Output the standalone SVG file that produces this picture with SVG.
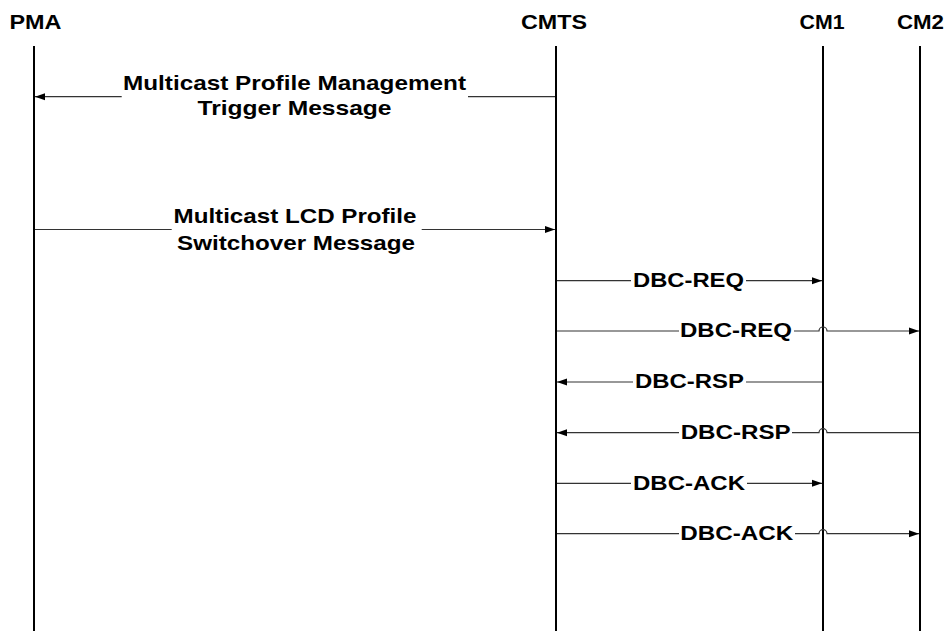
<svg xmlns="http://www.w3.org/2000/svg" width="948" height="631" viewBox="0 0 948 631">
  <style>
    .life { stroke: #000; stroke-width: 2; fill: none; }
    .hdr { font-family: "Liberation Sans", Arial, sans-serif; font-weight: bold; font-size: 20px; fill: #000; text-anchor: middle; }
    .lbl { font-family: "Liberation Sans", Arial, sans-serif; font-weight: bold; font-size: 21px; fill: #000; text-anchor: middle; }
    .dbc { font-family: "Liberation Sans", Arial, sans-serif; font-weight: bold; font-size: 20px; fill: #000; text-anchor: middle; }
    .msg { stroke: #333; stroke-width: 1.2; fill: none; }
  </style>
  <defs>
    <marker id="ah" markerUnits="userSpaceOnUse" markerWidth="11" markerHeight="8" refX="10" refY="4" orient="auto">
      <path d="M0,0.5 L10,4 L0,7.5 z" fill="#000"/>
    </marker>
  </defs>
  <rect width="948" height="631" fill="#fff"/>

  <g id="pma">
    <text class="hdr" x="35.5" y="29.3" textLength="52" lengthAdjust="spacingAndGlyphs">PMA</text>
    <line class="life" x1="34" y1="46" x2="34" y2="631"/>
  </g>
  <g id="cmts">
    <text class="hdr" x="554" y="29.3" textLength="66" lengthAdjust="spacingAndGlyphs">CMTS</text>
    <line class="life" x1="556" y1="46" x2="556" y2="631"/>
  </g>
  <g id="cm1">
    <text class="hdr" x="822" y="29.3" textLength="45" lengthAdjust="spacingAndGlyphs">CM1</text>
    <line class="life" x1="823" y1="46" x2="823" y2="631"/>
  </g>
  <g id="cm2">
    <text class="hdr" x="920.5" y="29.3" textLength="47" lengthAdjust="spacingAndGlyphs">CM2</text>
    <line class="life" x1="920" y1="46" x2="920" y2="631"/>
  </g>

  <g id="connectors">
    <!-- Multicast Profile Management Trigger Message: CMTS -> PMA -->
    <line class="msg" x1="555" y1="96.7" x2="468" y2="96.7"/>
    <line class="msg" x1="121.7" y1="96.7" x2="35" y2="96.7" marker-end="url(#ah)"/>
    <text class="lbl" x="294.5" y="90" textLength="343" lengthAdjust="spacingAndGlyphs">Multicast Profile Management</text>
    <text class="lbl" x="294.5" y="115" textLength="194" lengthAdjust="spacingAndGlyphs">Trigger Message</text>

    <!-- Multicast LCD Profile Switchover Message: PMA -> CMTS -->
    <line class="msg" x1="35" y1="229.5" x2="171.7" y2="229.5"/>
    <line class="msg" x1="421.7" y1="229.5" x2="555" y2="229.5" marker-end="url(#ah)"/>
    <text class="lbl" x="295" y="223.3" textLength="243" lengthAdjust="spacingAndGlyphs">Multicast LCD Profile</text>
    <text class="lbl" x="296" y="250" textLength="238" lengthAdjust="spacingAndGlyphs">Switchover Message</text>

    <!-- DBC-REQ CMTS -> CM1 -->
    <line class="msg" x1="557" y1="280.7" x2="631" y2="280.7"/>
    <line class="msg" x1="746" y1="280.7" x2="822" y2="280.7" marker-end="url(#ah)"/>
    <text class="dbc" x="688.5" y="287" textLength="111" lengthAdjust="spacingAndGlyphs">DBC-REQ</text>

    <!-- DBC-REQ CMTS -> CM2 -->
    <line class="msg" x1="557" y1="331" x2="679" y2="331"/>
    <path class="msg" d="M794,331 L819,331 A4,4 0 0 1 827,331 L919,331" marker-end="url(#ah)"/>
    <text class="dbc" x="736" y="337.3" textLength="112" lengthAdjust="spacingAndGlyphs">DBC-REQ</text>

    <!-- DBC-RSP CM1 -> CMTS -->
    <line class="msg" x1="822" y1="382" x2="746" y2="382"/>
    <line class="msg" x1="633" y1="382" x2="557" y2="382" marker-end="url(#ah)"/>
    <text class="dbc" x="689.5" y="388.3" textLength="109" lengthAdjust="spacingAndGlyphs">DBC-RSP</text>

    <!-- DBC-RSP CM2 -> CMTS -->
    <path class="msg" d="M919,432.7 L827,432.7 A4,4 0 0 0 819,432.7 L792,432.7"/>
    <line class="msg" x1="679" y1="432.7" x2="557" y2="432.7" marker-end="url(#ah)"/>
    <text class="dbc" x="735.7" y="439" textLength="110" lengthAdjust="spacingAndGlyphs">DBC-RSP</text>

    <!-- DBC-ACK CMTS -> CM1 -->
    <line class="msg" x1="557" y1="483.3" x2="631" y2="483.3"/>
    <line class="msg" x1="747" y1="483.3" x2="822" y2="483.3" marker-end="url(#ah)"/>
    <text class="dbc" x="689" y="489.6" textLength="112" lengthAdjust="spacingAndGlyphs">DBC-ACK</text>

    <!-- DBC-ACK CMTS -> CM2 -->
    <line class="msg" x1="557" y1="533.7" x2="679" y2="533.7"/>
    <path class="msg" d="M795,533.7 L819,533.7 A4,4 0 0 1 827,533.7 L919,533.7" marker-end="url(#ah)"/>
    <text class="dbc" x="736.7" y="540" textLength="113" lengthAdjust="spacingAndGlyphs">DBC-ACK</text>
  </g>
</svg>
